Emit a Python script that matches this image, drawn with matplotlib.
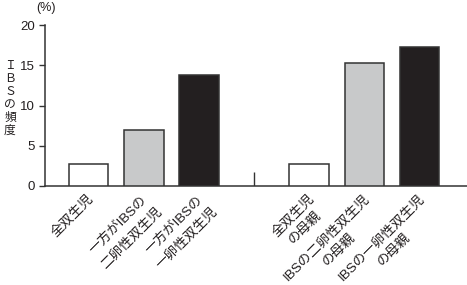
import matplotlib
matplotlib.use('Agg')
import matplotlib.pyplot as plt
import matplotlib.transforms as mtransforms

######################## data ########################
labels = ['全双生児',
          '一方がIBSの\n二卵性双生児',
          '一方がIBSの\n一卵性双生児',
          '全双生児\nの母親',
          'IBSの二卵性双生児\nの母親',
          'IBSの一卵性双生児\nの母親']
ibs_rate = [2.7, 6.9, 13.8, 2.7, 15.3, 17.3]
positions = [0, 1, 2, 4, 5, 6]
separator = 3
bar_colors = ['white', '#c8c9ca', '#231f20', 'white', '#c8c9ca', '#231f20']
yticks = [0, 5, 10, 15, 20]

plt.rcParams['font.family'] = ['Liberation Sans', 'Noto Sans CJK JP', 'DejaVu Sans']

########################## plotting ##########################
fig = plt.figure(figsize=(4.67, 2.85), dpi=100)
ax = fig.add_axes([45/467, 1-186/285, 1-45/467, (186-25)/285])

edge = '#333333'
ax.bar(positions, ibs_rate, width=0.72, color=bar_colors, edgecolor=edge, linewidth=1.1, zorder=3)

# small divider between the two groups
ax.plot([separator, separator], [0, 1.7], color=edge, linewidth=1.0, solid_capstyle='butt')

ax.set_xlim(-0.79, 6.86)
ax.set_ylim(0, 20)
ax.set_yticks(yticks)
ax.set_yticklabels([str(t) for t in yticks], fontsize=9.5, color='#231f20')
ax.tick_params(axis='y', direction='out', length=4, width=1.0, color=edge, pad=3)
ax.set_xticks([])

for s in ['top', 'right']:
    ax.spines[s].set_visible(False)
for s in ['left', 'bottom']:
    ax.spines[s].set_color(edge)
    ax.spines[s].set_linewidth(1.1)

# rotated category labels
offset = mtransforms.ScaledTranslation(-1/100, -6/100, fig.dpi_scale_trans)
trans = mtransforms.blended_transform_factory(ax.transData, ax.transAxes) + offset
for p, lab in zip(positions, labels):
    ax.text(p, 0, lab, transform=trans, rotation=45, rotation_mode='anchor',
            ha='right', va='top', multialignment='center', fontsize=9.7,
            color='#231f20', linespacing=1.55)

fig.text(46/467, 1-8/285, '(%)', ha='center', va='center', fontsize=9, color='#231f20')
fig.text(10/467, 1-98/285, '\n'.join('ＩＢＳの頻度'), ha='center', va='center',
         fontsize=8.5, linespacing=1.0, color='#231f20',
         family=['Noto Sans CJK JP', 'DejaVu Sans'])

fig.savefig('out.png', dpi=100)
